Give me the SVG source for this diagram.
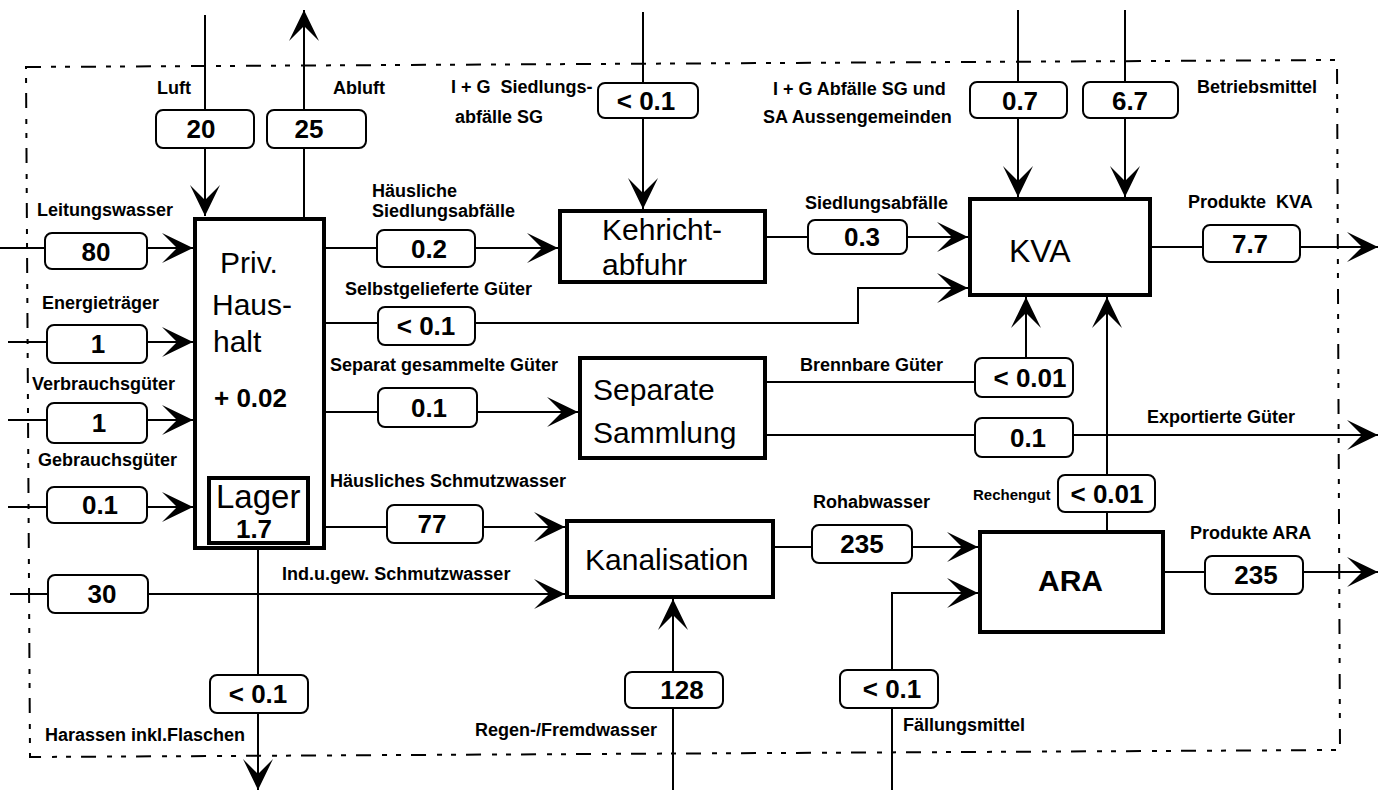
<svg xmlns="http://www.w3.org/2000/svg" width="1384" height="791" viewBox="0 0 1384 791">
<style>
.lbl{font-family:"Liberation Sans",Arial,sans-serif;font-weight:bold;font-size:18px;fill:#000;white-space:pre}
.sm{font-size:15px}
.val{font-family:"Liberation Sans",Arial,sans-serif;font-weight:bold;font-size:26px;fill:#000;text-anchor:middle}
.node{font-family:"Liberation Sans",Arial,sans-serif;font-size:30px;fill:#000}
.nbox{fill:#fff;stroke:#000;stroke-width:4}
.vbox{fill:#fff;stroke:#000;stroke-width:2}
.flow{fill:none;stroke:#000;stroke-width:2}
.arr{marker-end:url(#ah)}
.bnd{fill:none;stroke:#000;stroke-width:2;stroke-dasharray:15 10 5 9 5 11}
</style>
<defs>
<marker id="ah" markerUnits="userSpaceOnUse" markerWidth="34" markerHeight="34" viewBox="-32 -17 34 34" refX="0" refY="0" orient="auto">
<path d="M0,0 L-31,-15 L-16,0 L-31,15 Z" fill="#000"/>
</marker>
</defs>
<rect width="1384" height="791" fill="#fff"/>
<g id="boundary">
<polygon class="bnd" points="26,67 1337,60 1340,750 30,757"/>
</g>
<g id="connectors">
<path class="flow arr" d="M205,15 V216"/>
<path class="flow arr" d="M304,219 V10"/>
<path class="flow arr" d="M643,12 V209"/>
<path class="flow arr" d="M1018,10 V197"/>
<path class="flow arr" d="M1125,10 V197"/>
<path class="flow arr" d="M0,248 H193"/>
<path class="flow arr" d="M8,342 H193"/>
<path class="flow arr" d="M8,420 H193"/>
<path class="flow arr" d="M8,507 H193"/>
<path class="flow arr" d="M324,248 H558"/>
<path class="flow arr" d="M324,323 H858 V288 H968"/>
<path class="flow arr" d="M324,412 H578"/>
<path class="flow arr" d="M324,527 H565"/>
<path class="flow arr" d="M10,594 H565"/>
<path class="flow arr" d="M765,237 H968"/>
<path class="flow arr" d="M258,430 V476"/>
<path class="flow arr" d="M258,548 V790"/>
<path class="flow arr" d="M673,790 V599"/>
<path class="flow arr" d="M773,547 H978"/>
<path class="flow arr" d="M892,790 V593 H978"/>
<path class="flow arr" d="M765,382 H1026 V297"/>
<path class="flow arr" d="M765,435 H1378"/>
<path class="flow arr" d="M1107,532 V297"/>
<path class="flow arr" d="M1150,247 H1378"/>
<path class="flow arr" d="M1163,572 H1378"/>
</g>
<g id="flow-values">
<rect class="vbox" x="156" y="110" width="98" height="38" rx="7"/><text class="val" x="201" y="138">20</text>
<rect class="vbox" x="267" y="110" width="99" height="38" rx="7"/><text class="val" x="309" y="138">25</text>
<rect class="vbox" x="598" y="83" width="100" height="35" rx="7"/><text class="val" x="646" y="110">&lt; 0.1</text>
<rect class="vbox" x="970" y="82" width="97" height="36" rx="7"/><text class="val" x="1020" y="110">0.7</text>
<rect class="vbox" x="1083" y="82" width="95" height="36" rx="7"/><text class="val" x="1130" y="110">6.7</text>
<rect class="vbox" x="45" y="233" width="102" height="36" rx="7"/><text class="val" x="96" y="261">80</text>
<rect class="vbox" x="47" y="325" width="100" height="38" rx="7"/><text class="val" x="98" y="353">1</text>
<rect class="vbox" x="47" y="403" width="100" height="40" rx="7"/><text class="val" x="99" y="432">1</text>
<rect class="vbox" x="47" y="487" width="100" height="36" rx="7"/><text class="val" x="100" y="514">0.1</text>
<rect class="vbox" x="48" y="575" width="100" height="38" rx="7"/><text class="val" x="102" y="603">30</text>
<rect class="vbox" x="377" y="230" width="98" height="37" rx="7"/><text class="val" x="429" y="258">0.2</text>
<rect class="vbox" x="378" y="307" width="97" height="38" rx="7"/><text class="val" x="426" y="335">&lt; 0.1</text>
<rect class="vbox" x="378" y="388" width="99" height="39" rx="7"/><text class="val" x="429" y="417">0.1</text>
<rect class="vbox" x="387" y="505" width="96" height="38" rx="7"/><text class="val" x="432" y="533">77</text>
<rect class="vbox" x="808" y="220" width="99" height="34" rx="7"/><text class="val" x="862" y="246">0.3</text>
<rect class="vbox" x="1203" y="225" width="97" height="37" rx="7"/><text class="val" x="1250" y="253">7.7</text>
<rect class="vbox" x="975" y="358" width="98" height="39" rx="7"/><text class="val" x="1030" y="387">&lt; 0.01</text>
<rect class="vbox" x="975" y="418" width="98" height="39" rx="7"/><text class="val" x="1028" y="447">0.1</text>
<rect class="vbox" x="1058" y="475" width="97" height="37" rx="7"/><text class="val" x="1107" y="503">&lt; 0.01</text>
<rect class="vbox" x="812" y="525" width="100" height="38" rx="7"/><text class="val" x="862" y="553">235</text>
<rect class="vbox" x="1205" y="556" width="98" height="38" rx="7"/><text class="val" x="1256" y="584">235</text>
<rect class="vbox" x="625" y="672" width="98" height="36" rx="7"/><text class="val" x="682" y="699">128</text>
<rect class="vbox" x="840" y="670" width="98" height="38" rx="7"/><text class="val" x="892" y="698">&lt; 0.1</text>
<rect class="vbox" x="210" y="675" width="98" height="38" rx="7"/><text class="val" x="258" y="703">&lt; 0.1</text>
</g>
<g id="flow-labels">
<text class="lbl" x="157" y="94">Luft</text>
<text class="lbl" x="333" y="94">Abluft</text>
<text class="lbl" x="451" y="93">I + G  Siedlungs-</text>
<text class="lbl" x="455" y="123">abfälle SG</text>
<text class="lbl" x="773" y="95">I + G Abfälle SG und</text>
<text class="lbl" x="763" y="123">SA Aussengemeinden</text>
<text class="lbl" x="1197" y="93">Betriebsmittel</text>
<text class="lbl" x="37" y="216">Leitungswasser</text>
<text class="lbl" x="372" y="197">Häusliche</text>
<text class="lbl" x="372" y="217">Siedlungsabfälle</text>
<text class="lbl" x="805" y="209">Siedlungsabfälle</text>
<text class="lbl" x="1188" y="208">Produkte  KVA</text>
<text class="lbl" x="42" y="309">Energieträger</text>
<text class="lbl" x="345" y="295">Selbstgelieferte Güter</text>
<text class="lbl" x="330" y="371">Separat gesammelte Güter</text>
<text class="lbl" x="800" y="371">Brennbare Güter</text>
<text class="lbl" x="32" y="390">Verbrauchsgüter</text>
<text class="lbl" x="1147" y="423">Exportierte Güter</text>
<text class="lbl" x="38" y="466">Gebrauchsgüter</text>
<text class="lbl" x="330" y="487">Häusliches Schmutzwasser</text>
<text class="lbl" x="813" y="508">Rohabwasser</text>
<text class="lbl sm" x="973" y="500">Rechengut</text>
<text class="lbl" x="282" y="580">Ind.u.gew. Schmutzwasser</text>
<text class="lbl" x="1190" y="539">Produkte ARA</text>
<text class="lbl" x="45" y="741">Harassen inkl.Flaschen</text>
<text class="lbl" x="475" y="736">Regen-/Fremdwasser</text>
<text class="lbl" x="903" y="731">Fällungsmittel</text>
</g>
<g id="node-haushalt">
<rect class="nbox" x="195" y="219" width="129" height="329"/>
<text class="node" x="220" y="273">Priv.</text>
<text class="node" x="212" y="315">Haus-</text>
<text class="node" x="213" y="352">halt</text>
<text class="node" x="214" y="407" style="font-size:26px;font-weight:bold">+ 0.02</text>
</g>
<g id="node-lager">
<rect class="nbox" x="209" y="478" width="99" height="65"/>
<text class="node" x="216" y="508" style="font-size:33px">Lager</text>
<text class="val" x="254" y="538">1.7</text>
</g>
<g id="node-kehricht">
<rect class="nbox" x="560" y="211" width="205" height="71"/>
<text class="node" x="602" y="240">Kehricht-</text>
<text class="node" x="602" y="275">abfuhr</text>
</g>
<g id="node-kva">
<rect class="nbox" x="970" y="199" width="180" height="96"/>
<text class="node" x="1009" y="262" style="font-size:32px">KVA</text>
</g>
<g id="node-separate">
<rect class="nbox" x="580" y="358" width="185" height="100"/>
<text class="node" x="593" y="400">Separate</text>
<text class="node" x="593" y="443">Sammlung</text>
</g>
<g id="node-kanalisation">
<rect class="nbox" x="567" y="521" width="206" height="76"/>
<text class="node" x="585" y="570">Kanalisation</text>
</g>
<g id="node-ara">
<rect class="nbox" x="980" y="532" width="183" height="100"/>
<text class="node" x="1038" y="591" style="font-weight:bold">ARA</text>
</g>
</svg>
